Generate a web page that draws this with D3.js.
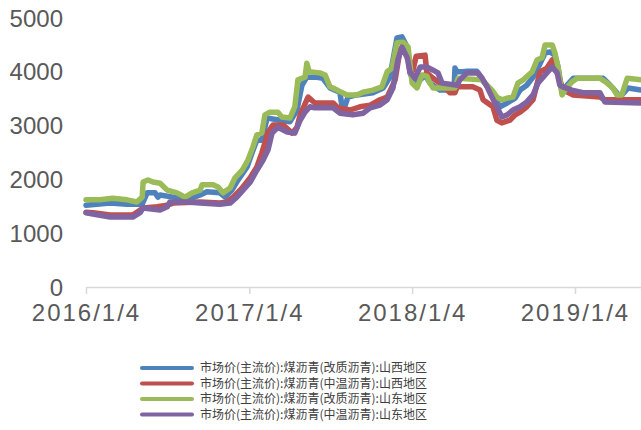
<!DOCTYPE html>
<html>
<head>
<meta charset="utf-8">
<script src="https://cdn.jsdelivr.net/npm/d3@7"></script>
<style>
  body { margin: 0; background: #fff; }
  svg { display: block; }
</style>
</head>
<body>
<svg id="chart"></svg>
<script>
// series names (legend order)
const seriesNames = [
  "市场价(主流价):煤沥青(改质沥青):山西地区",
  "市场价(主流价):煤沥青(中温沥青):山西地区",
  "市场价(主流价):煤沥青(改质沥青):山东地区",
  "市场价(主流价):煤沥青(中温沥青):山东地区"
];
const seriesColors = ["#4f81bd", "#c0504d", "#9bbb59", "#8064a2"];

const xTicks = ["2016-01-04", "2017-01-04", "2018-01-04", "2019-01-04"];
const yTicks = [0, 1000, 2000, 3000, 4000, 5000];

// 山西 改质沥青
const shanxiModified = [
  ["2016-01-04",1520],["2016-02-27",1560],["2016-04-05",1540],["2016-05-04",1540],["2016-05-09",1540],
  ["2016-05-20",1750],["2016-06-07",1750],["2016-06-13",1670],["2016-06-18",1710],["2016-07-17",1670],
  ["2016-08-17",1620],["2016-09-16",1710],["2016-10-01",1770],["2016-10-30",1750],["2016-11-11",1670],
  ["2016-11-26",1800],["2016-12-10",1990],["2016-12-30",2230],["2017-01-10",2490],["2017-01-21",2730],
  ["2017-02-01",2730],["2017-02-13",3140],["2017-03-14",3100],["2017-04-05",3070],["2017-04-21",3290],
  ["2017-05-02",3750],["2017-05-13",3900],["2017-06-05",3900],["2017-06-18",3880],["2017-07-04",3700],
  ["2017-07-26",3620],["2017-07-31",3350],["2017-08-06",3350],["2017-08-13",3530],["2017-09-02",3570],
  ["2017-10-08",3610],["2017-10-31",3700],["2017-11-15",3900],["2017-12-01",4630],["2017-12-12",4650],
  ["2017-12-24",4460],["2017-12-30",3980],["2018-01-06",3850],["2018-01-10",3750],["2018-02-02",3940],
  ["2018-02-13",3790],["2018-03-07",3660],["2018-04-08",3660],["2018-04-10",4070],["2018-04-15",4000],
  ["2018-04-28",4000],["2018-05-07",4010],["2018-05-29",4010],["2018-06-10",3850],["2018-06-28",3660],
  ["2018-07-20",3350],["2018-08-05",3420],["2018-08-23",3510],["2018-09-03",3660],["2018-09-18",3750],
  ["2018-10-02",3900],["2018-10-13",4070],["2018-10-29",4350],["2018-11-09",4370],["2018-11-20",4310],
  ["2018-11-27",4090],["2018-12-06",3610],["2018-12-17",3750],["2018-12-31",3880],["2019-03-08",3880],
  ["2019-03-24",3750],["2019-04-08",3610],["2019-04-15",3530],["2019-05-03",3700],["2019-06-01",3660]
];

// 山西 中温沥青
const shanxiMedium = [
  ["2016-01-04",1390],["2016-01-20",1380],["2016-02-27",1340],["2016-04-18",1340],["2016-05-11",1470],
  ["2016-06-11",1490],["2016-07-04",1520],["2016-07-17",1560],["2016-09-16",1580],["2016-10-30",1560],
  ["2016-11-15",1580],["2016-11-29",1670],["2016-12-19",1840],["2017-01-06",2030],["2017-01-21",2230],
  ["2017-02-01",2490],["2017-02-08",2680],["2017-02-15",2880],["2017-02-26",3010],["2017-03-21",3010],
  ["2017-04-10",2860],["2017-04-21",2970],["2017-04-28",3200],["2017-05-13",3480],["2017-05-16",3530],
  ["2017-05-31",3420],["2017-07-11",3420],["2017-07-22",3330],["2017-08-18",3290],["2017-09-09",3350],
  ["2017-10-02",3380],["2017-10-24",3480],["2017-11-09",3530],["2017-11-27",3850],["2017-12-08",4410],
  ["2017-12-19",4500],["2017-12-26",4280],["2018-01-06",4030],["2018-01-13",4290],["2018-02-02",4310],
  ["2018-02-06",3980],["2018-02-20",3880],["2018-03-14",3750],["2018-03-30",3610],["2018-04-10",3610],
  ["2018-04-15",3720],["2018-05-20",3720],["2018-06-05",3660],["2018-06-12",3480],["2018-07-04",3350],
  ["2018-07-13",3100],["2018-07-24",3050],["2018-08-11",3100],["2018-08-23",3200],["2018-09-03",3250],
  ["2018-09-18",3350],["2018-10-02",3480],["2018-10-18",4000],["2018-11-02",4070],["2018-11-14",4220],
  ["2018-11-25",4070],["2018-12-01",3850],["2018-12-08",3660],["2018-12-19",3620],["2018-12-31",3570],
  ["2019-03-01",3530],["2019-03-12",3480],["2019-06-01",3480]
];

// 山东 改质沥青
const shandongModified = [
  ["2016-01-04",1620],["2016-02-04",1620],["2016-03-04",1650],["2016-04-05",1620],["2016-04-27",1580],
  ["2016-05-09",1670],["2016-05-11",1950],["2016-05-22",1990],["2016-06-02",1950],["2016-06-18",1930],
  ["2016-07-04",1800],["2016-07-26",1750],["2016-08-13",1670],["2016-08-29",1750],["2016-09-16",1800],
  ["2016-09-20",1900],["2016-10-15",1900],["2016-10-26",1860],["2016-11-06",1750],["2016-11-22",1840],
  ["2016-12-03",2030],["2016-12-19",2170],["2017-01-01",2360],["2017-01-12",2600],["2017-01-21",2830],
  ["2017-02-01",2860],["2017-02-08",3200],["2017-02-19",3250],["2017-03-09",3250],["2017-03-18",3160],
  ["2017-04-05",3140],["2017-04-16",3350],["2017-04-23",3850],["2017-05-09",3900],["2017-05-13",4160],
  ["2017-05-18",4000],["2017-06-11",3980],["2017-06-23",3940],["2017-07-04",3720],["2017-07-20",3660],
  ["2017-08-11",3570],["2017-09-02",3570],["2017-09-16",3620],["2017-10-08",3660],["2017-10-28",3720],
  ["2017-11-09",4000],["2017-11-20",4070],["2017-12-01",4540],["2017-12-15",4550],["2017-12-26",4460],
  ["2018-01-04",3790],["2018-01-15",3700],["2018-01-26",3940],["2018-02-06",3920],["2018-02-13",3790],
  ["2018-02-20",3700],["2018-04-10",3700],["2018-04-17",3880],["2018-06-10",3850],["2018-06-21",3750],
  ["2018-07-02",3660],["2018-07-13",3530],["2018-07-24",3480],["2018-08-05",3510],["2018-08-18",3530],
  ["2018-08-29",3790],["2018-09-10",3850],["2018-09-30",4000],["2018-10-11",4220],["2018-10-22",4260],
  ["2018-10-29",4500],["2018-11-14",4500],["2018-11-20",4350],["2018-11-27",4090],["2018-12-06",3570],
  ["2018-12-13",3660],["2018-12-28",3810],["2019-01-09",3880],["2019-03-01",3880],["2019-03-17",3790],
  ["2019-03-30",3700],["2019-04-08",3570],["2019-04-19",3570],["2019-05-01",3880],["2019-06-01",3850]
];

// 山东 中温沥青
const shandongMedium = [
  ["2016-01-04",1380],["2016-01-29",1340],["2016-02-27",1300],["2016-04-18",1300],["2016-05-04",1380],
  ["2016-05-11",1470],["2016-06-18",1430],["2016-07-04",1490],["2016-07-10",1580],["2016-08-17",1580],
  ["2016-09-16",1560],["2016-10-30",1540],["2016-11-22",1560],["2016-12-07",1670],["2016-12-21",1800],
  ["2017-01-06",1950],["2017-01-21",2170],["2017-02-04",2360],["2017-02-15",2550],["2017-02-24",2860],
  ["2017-03-09",2970],["2017-03-30",2880],["2017-04-16",2860],["2017-04-28",3100],["2017-05-09",3250],
  ["2017-05-20",3350],["2017-05-31",3330],["2017-07-11",3330],["2017-07-26",3230],["2017-08-24",3200],
  ["2017-09-16",3230],["2017-10-02",3330],["2017-10-24",3380],["2017-11-09",3480],["2017-11-22",3700],
  ["2017-12-03",4220],["2017-12-12",4460],["2017-12-24",4260],["2017-12-30",4000],["2018-01-10",3880],
  ["2018-01-22",4090],["2018-02-06",4090],["2018-02-20",4030],["2018-03-03",3980],["2018-03-12",3790],
  ["2018-04-15",3750],["2018-04-21",3850],["2018-05-07",3980],["2018-06-01",3980],["2018-06-10",3880],
  ["2018-06-21",3720],["2018-07-02",3530],["2018-07-13",3350],["2018-07-24",3160],["2018-08-05",3200],
  ["2018-08-18",3290],["2018-09-03",3350],["2018-09-18",3440],["2018-10-02",3570],["2018-10-13",3790],
  ["2018-10-29",3940],["2018-11-14",4090],["2018-11-25",3980],["2018-12-01",3750],["2018-12-08",3720],
  ["2018-12-28",3660],["2019-01-22",3610],["2019-03-01",3610],["2019-03-12",3440],["2019-06-01",3420]
];

const allSeries = [shanxiModified, shanxiMedium, shandongModified, shandongMedium];

const W = 641, H = 430;
const svg = d3.select("#chart").attr("width", W).attr("height", H);

const parse = d3.timeParse("%Y-%m-%d");
const fmt = d3.timeFormat("%Y/%-m/%-d");

const x = d3.scaleTime()
  .domain([parse("2016-01-04"), parse("2019-06-01")])
  .range([86, 641]);
const y = d3.scaleLinear().domain([0, 5000]).range([287, 18]);

// y labels (no axis line)
svg.append("g").selectAll("text")
  .data(yTicks).join("text")
  .attr("x", 63)
  .attr("y", d => y(d))
  .attr("dy", "0.36em")
  .attr("text-anchor", "end")
  .attr("font-family", "Liberation Sans, Arial, sans-serif")
  .attr("font-size", 24)
  .attr("fill", "#595959")
  .text(d => d);

// x axis
const xAxis = svg.append("g")
  .attr("transform", "translate(0,287)")
  .call(d3.axisBottom(x)
    .tickValues(xTicks.map(parse))
    .tickFormat(fmt)
    .tickSize(7)
    .tickSizeOuter(0)
    .tickPadding(10));
xAxis.select(".domain").attr("stroke", "#d9d9d9").attr("stroke-width", 1.5);
xAxis.selectAll(".tick line").attr("stroke", "#d9d9d9").attr("stroke-width", 1.5);
xAxis.selectAll(".tick text")
  .attr("font-family", "Liberation Sans, Arial, sans-serif")
  .attr("font-size", 24)
  .attr("letter-spacing", 2)
  .attr("fill", "#595959");

// lines
const line = d3.line()
  .x(d => x(parse(d[0])))
  .y(d => y(d[1]));

svg.append("g").selectAll("path")
  .data(allSeries).join("path")
  .attr("d", line)
  .attr("fill", "none")
  .attr("stroke", (d, i) => seriesColors[i])
  .attr("stroke-width", 5.5)
  .attr("stroke-linejoin", "round")
  .attr("stroke-linecap", "round");

// legend
const legend = svg.append("g").selectAll("g")
  .data(seriesNames).join("g")
  .attr("transform", (d, i) => "translate(0," + (368 + i * 15.5) + ")");
legend.append("line")
  .attr("x1", 142).attr("x2", 192)
  .attr("stroke", (d, i) => seriesColors[i])
  .attr("stroke-width", 4)
  .attr("stroke-linecap", "round");
legend.append("text")
  .attr("x", 200)
  .attr("dy", "0.35em")
  .attr("font-family", "Noto Sans CJK SC, sans-serif")
  .attr("font-size", 12)
  .attr("fill", "#404040")
  .text(d => d);
</script>
</body>
</html>
